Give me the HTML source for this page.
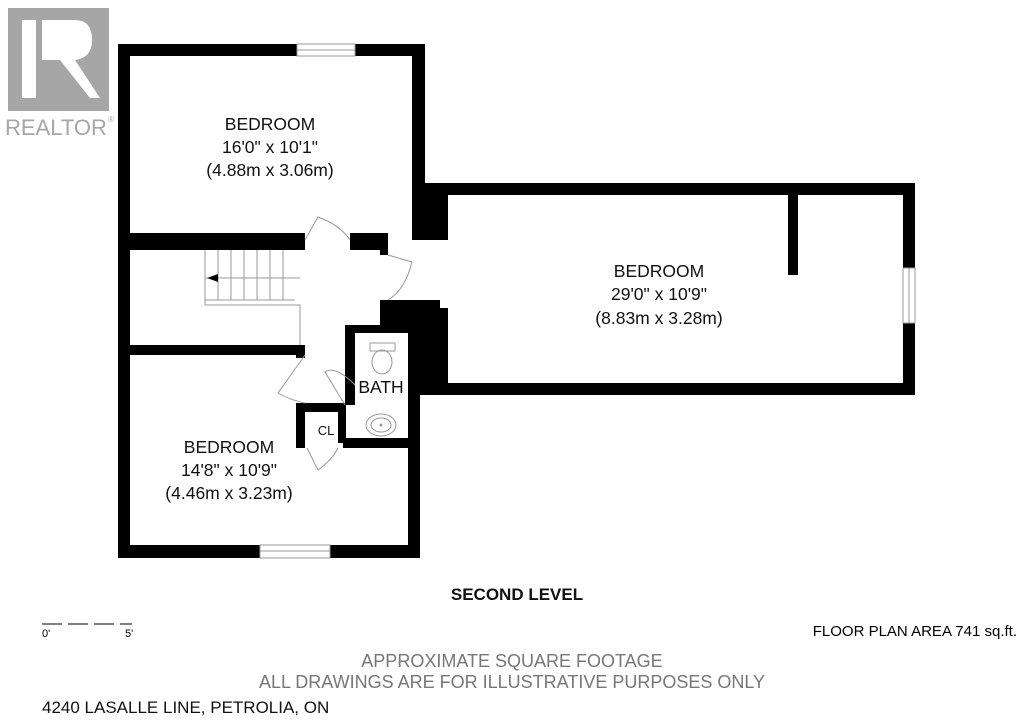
<!DOCTYPE html>
<html><head><style>
body{margin:0;background:#fff;width:1024px;height:723px;overflow:hidden;font-family:"Liberation Sans",sans-serif}
</style></head><body>
<svg width="1024" height="723" viewBox="0 0 1024 723" xmlns="http://www.w3.org/2000/svg" font-family="Liberation Sans, sans-serif">
<rect x="8" y="8" width="101" height="103" fill="#a6a6a6"/>
<rect x="22" y="20" width="14" height="78" fill="#fff"/>
<path d="M42 20 H75 Q92 20 92 40 Q92 58 75 60 L100 98 H90 L60 60 H42 Z" fill="#fff"/>
<text x="5" y="135" font-size="22" fill="#a6a6a6">REALTOR</text>
<text x="108" y="122" font-size="8" fill="#a6a6a6">®</text>
<g fill="#000">
<rect x="118" y="44" width="12" height="514"/>
<rect x="118" y="44" width="307" height="12"/>
<rect x="412" y="44" width="13" height="196"/>
<rect x="412" y="183" width="36" height="57"/>
<rect x="425" y="183" width="490" height="12"/>
<rect x="903" y="183" width="12" height="212"/>
<rect x="437" y="383" width="478" height="12"/>
<rect x="420" y="308" width="28" height="87"/>
<rect x="380" y="300" width="60" height="25"/>
<rect x="788" y="195" width="10" height="80"/>
<rect x="130" y="233" width="175" height="17"/>
<rect x="350" y="233" width="38" height="17"/>
<rect x="380" y="240" width="8" height="15"/>
<rect x="130" y="345" width="175" height="10"/>
<rect x="296" y="345" width="9" height="13"/>
<rect x="345" y="325" width="10" height="80"/>
<rect x="345" y="325" width="75" height="8"/>
<rect x="408" y="325" width="12" height="233"/>
<rect x="343" y="438" width="77" height="10"/>
<rect x="296" y="403" width="9" height="45"/>
<rect x="296" y="403" width="50" height="9"/>
<rect x="338" y="403" width="8" height="40"/>
<rect x="118" y="545" width="302" height="13"/>
</g>
<g fill="#fff" stroke="#999" stroke-width="1">
<rect x="297" y="44" width="58" height="12"/>
<rect x="903" y="268" width="12" height="55"/>
<rect x="260" y="545" width="70" height="13"/>
</g>
<g stroke="#999" fill="none" stroke-width="1">
<line x1="297" y1="50" x2="355" y2="50"/><line x1="909" y1="268" x2="909" y2="323"/><line x1="260" y1="551" x2="330" y2="551"/>
<path d="M305 240 L318 217 Q340 225 350 240"/>
<path d="M388 255 L412 262 Q405 290 388 300"/>
<path d="M305 355 L278 393 Q290 400 305 403"/>
<path d="M355 385 Q335 365 325 372 L345 405"/>
<path d="M307 448 L318 470 Q332 460 338 448"/>
<path d="M205 250 V305 H300 V345 M205 278 H300 M205 300 H295 M218 250 V300 M231 250 V300 M244 250 V300 M257 250 V300 M270 250 V300 M283 250 V300"/>
<rect x="370" y="343" width="25" height="8"/><ellipse cx="382" cy="362" rx="10" ry="12"/>
<ellipse cx="381" cy="425" rx="15" ry="11"/><ellipse cx="381" cy="425" rx="10" ry="7"/>
</g>
<circle cx="381" cy="425" r="1.5" fill="#999"/>
<path d="M207 278 L218 274 L218 282Z" fill="#000"/>
<g font-size="17.5" fill="#111" text-anchor="middle">
<text x="270" y="130">BEDROOM</text><text x="270" y="153">16'0" x 10'1"</text><text x="270" y="176">(4.88m x 3.06m)</text>
<text x="659" y="277">BEDROOM</text><text x="659" y="300">29'0" x 10'9"</text><text x="659" y="324">(8.83m x 3.28m)</text>
<text x="229" y="453">BEDROOM</text><text x="229" y="476">14'8" x 10'9"</text><text x="229" y="499">(4.46m x 3.23m)</text>
<text x="381" y="393">BATH</text>
<text x="326" y="435" font-size="13">CL</text>
<text x="517" y="600" font-weight="bold" font-size="17">SECOND LEVEL</text>
<text x="512" y="667" fill="#777" font-size="18">APPROXIMATE SQUARE FOOTAGE</text>
<text x="512" y="688" fill="#777" font-size="18">ALL DRAWINGS ARE FOR ILLUSTRATIVE PURPOSES ONLY</text>
</g>
<line x1="42" y1="624" x2="132" y2="624" stroke="#000" stroke-dasharray="20,6"/>
<text x="42" y="637" font-size="11">0'</text><text x="125" y="637" font-size="11">5'</text>
<text x="1017" y="636" font-size="15" text-anchor="end">FLOOR PLAN AREA 741 sq.ft.</text>
<text x="42" y="713" font-size="17" fill="#111">4240 LASALLE LINE, PETROLIA, ON</text>
</svg>
</body></html>
